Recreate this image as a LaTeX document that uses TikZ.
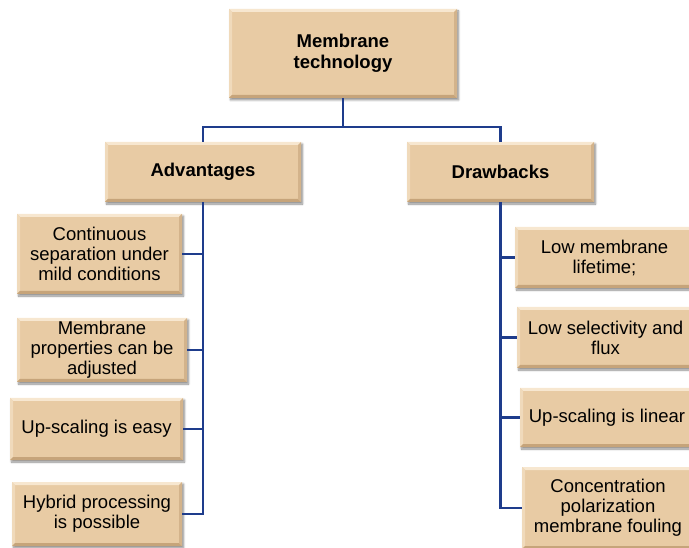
\documentclass[tikz,border=0pt]{standalone}
\usepackage{fontspec}
\setmainfont{Liberation Sans}
\usetikzlibrary{shadows.blur}

\definecolor{boxfill}{HTML}{E8CBA4}
\definecolor{bevlight}{HTML}{F7E7D0}
\definecolor{bevleft}{HTML}{F0DABB}
\definecolor{bevdark}{HTML}{C6A47A}
\definecolor{bevright}{HTML}{D3B38B}
\definecolor{linkblue}{HTML}{1E3C8C}

\tikzset{
  box/.style={
    fill=boxfill, draw=none, inner sep=0pt, align=center,
    font=\fontsize{18.5}{20}\selectfont,
    blur shadow={shadow xshift=1.5pt, shadow yshift=-2pt,
                 shadow blur radius=2pt, shadow blur steps=6, shadow opacity=45},
    path picture={
      \fill[bevlight] (path picture bounding box.north west) -- (path picture bounding box.north east)
        -- ([shift={(-3pt,-3pt)}]path picture bounding box.north east)
        -- ([shift={(3pt,-3pt)}]path picture bounding box.north west) -- cycle;
      \fill[bevleft] (path picture bounding box.north west)
        -- ([shift={(3pt,-3pt)}]path picture bounding box.north west)
        -- ([shift={(3pt,3pt)}]path picture bounding box.south west)
        -- (path picture bounding box.south west) -- cycle;
      \fill[bevdark] (path picture bounding box.south west) -- (path picture bounding box.south east)
        -- ([shift={(-3pt,3pt)}]path picture bounding box.south east)
        -- ([shift={(3pt,3pt)}]path picture bounding box.south west) -- cycle;
      \fill[bevright] (path picture bounding box.north east)
        -- ([shift={(-3pt,-3pt)}]path picture bounding box.north east)
        -- ([shift={(-3pt,3pt)}]path picture bounding box.south east)
        -- (path picture bounding box.south east) -- cycle;
    }},
  head/.style={box, font=\fontsize{18.5}{21}\selectfont\bfseries},
  link/.style={draw=linkblue, line width=2.2pt}
}

\begin{document}
\begin{tikzpicture}[x=1pt, y=-1pt]
  \useasboundingbox (0,0) rectangle (689,548);
  \clip (0,0) rectangle (689,548);

  % root and the two main branches
  \node[head, minimum width=228pt, minimum height=89pt] (root) at (343,53.5) {Membrane\\technology};
  \node[head, minimum width=196pt, minimum height=60pt] (adv) at (203,172) {Advantages};
  \node[head, minimum width=187pt, minimum height=60pt] (drw) at (500.5,172) {Drawbacks};

  % advantages
  \node[box, minimum width=165pt, minimum height=80pt] (a1) at (99.5,254) {Continuous\\separation under\\mild conditions};
  \node[box, minimum width=170pt, minimum height=64pt] (a2) at (102,350) {Membrane\\properties can be\\adjusted};
  \node[box, minimum width=173pt, minimum height=62pt] (a3) at (96.5,429) {Up-scaling is easy};
  \node[box, minimum width=170pt, minimum height=64pt] (a4) at (97,514) {Hybrid processing\\is possible};

  % drawbacks
  \node[box, minimum width=179pt, minimum height=61pt] (d1) at (604.5,257.5) {Low membrane\\lifetime;};
  \node[box, minimum width=177pt, minimum height=61pt] (d2) at (605.5,337.5) {Low selectivity and\\flux};
  \node[box, minimum width=174pt, minimum height=59pt] (d3) at (607,417.5) {Up-scaling is linear};
  \node[box, minimum width=172pt, minimum height=82pt] (d4) at (608,508) {Concentration\\polarization\\membrane fouling};

  % connectors
  \coordinate (bus) at (343,127);
  \draw[link] (root.south) -- (bus);
  \draw[link] (adv.north) -- (adv.north |- bus) -| (drw.north);

  \draw[link] (adv.south) |- (a4.east);
  \foreach \n in {a1,a2,a3}
    \draw[link] (\n.east) -- (\n.east -| adv.south);

  \draw[link] (drw.south) |- (d4.west);
  \foreach \n in {d1,d2,d3}
    \draw[link] (\n.west) -- (\n.west -| drw.south);
\end{tikzpicture}
\end{document}
